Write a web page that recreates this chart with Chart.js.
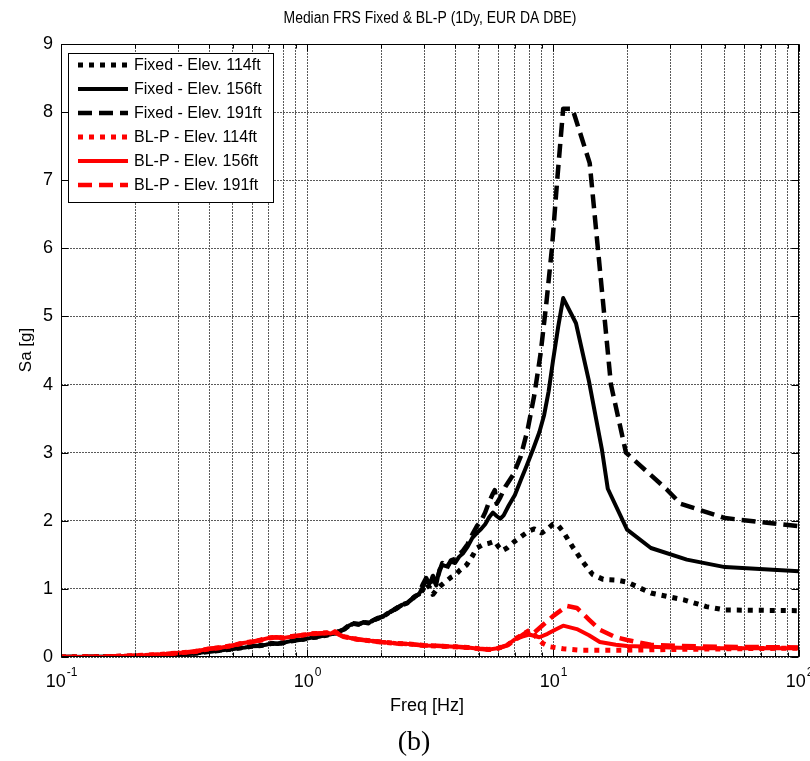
<!DOCTYPE html>
<html>
<head>
<meta charset="utf-8">
<script src="https://cdn.jsdelivr.net/npm/chart.js@4"></script>
<style>
  html, body { margin: 0; padding: 0; background: #fff; }
  canvas { display: block; }
</style>
</head>
<body>
<canvas id="frsChart" width="810" height="761"></canvas>
<script>
// values: frequency [Hz] / spectral accel. Sa [g]

// fixed base, shared low-frequency part (three curves overlap here)
const fixedLowFreq = [0.1, 0.13, 0.16, 0.2, 0.24, 0.28, 0.32, 0.36, 0.4, 0.44,
  0.48, 0.52, 0.56, 0.6, 0.64, 0.68, 0.72, 0.76, 0.8, 0.85,
  0.9, 0.95, 1.0, 1.05, 1.1, 1.15, 1.2, 1.25, 1.3, 1.36,
  1.42, 1.48, 1.55, 1.62, 1.7, 1.78, 1.86, 1.95, 2.05, 2.15,
  2.25, 2.35, 2.45, 2.55, 2.65, 2.75, 2.85];
const fixedLowSa = [0.00, 0.004, 0.008, 0.013, 0.02, 0.03, 0.045, 0.06, 0.08, 0.095,
  0.11, 0.13, 0.14, 0.16, 0.165, 0.18, 0.20, 0.195, 0.21, 0.23,
  0.245, 0.255, 0.27, 0.285, 0.295, 0.31, 0.32, 0.335, 0.35, 0.38,
  0.41, 0.46, 0.49, 0.48, 0.51, 0.50, 0.54, 0.57, 0.60, 0.65,
  0.69, 0.73, 0.77, 0.79, 0.84, 0.89, 0.92];

const fixed114Freq = [2.95, 3.05, 3.15, 3.25, 3.35, 3.5, 3.7, 3.85, 4.0, 4.2,
  4.45, 4.7, 4.9, 5.2, 5.5, 5.8, 6.0, 6.2, 6.5, 7.0,
  7.5, 8.0, 8.4, 9.0, 9.5, 10.0, 10.5, 11.0, 12.0, 13.2,
  14.5, 16.0, 18.2, 20, 25, 30, 34, 42, 50, 100];
const fixed114Sa = [0.98, 1.08, 1.02, 0.92, 0.98, 1.05, 1.12, 1.17, 1.20, 1.28,
  1.35, 1.48, 1.60, 1.65, 1.67, 1.70, 1.62, 1.56, 1.60, 1.70,
  1.78, 1.85, 1.88, 1.82, 1.88, 1.95, 1.93, 1.84, 1.62, 1.40,
  1.21, 1.14, 1.13, 1.10, 0.94, 0.88, 0.84, 0.74, 0.69, 0.68];

const fixed156Freq = [2.95, 3.05, 3.15, 3.25, 3.35, 3.45, 3.55, 3.7, 3.85, 4.0,
  4.15, 4.3, 4.5, 4.7, 4.9, 5.1, 5.3, 5.5, 5.7, 5.9,
  6.1, 6.3, 6.6, 7.0, 7.4, 7.8, 8.3, 8.8, 9.2, 9.6,
  10.0, 10.5, 11.0, 12.4, 14.0, 15.8, 16.7, 20, 25, 35,
  50, 100];
const fixed156Sa = [1.02, 1.12, 1.08, 1.15, 1.05, 1.28, 1.35, 1.33, 1.40, 1.38,
  1.47, 1.52, 1.62, 1.75, 1.82, 1.88, 1.95, 2.05, 2.12, 2.07,
  2.03, 2.08, 2.22, 2.38, 2.60, 2.80, 3.05, 3.30, 3.55, 3.90,
  4.35, 4.85, 5.27, 4.90, 4.05, 3.05, 2.47, 1.87, 1.60, 1.43,
  1.32, 1.26];

const fixed191Freq = [2.95, 3.05, 3.15, 3.25, 3.35, 3.45, 3.55, 3.7, 3.85, 4.0,
  4.15, 4.3, 4.5, 4.7, 4.9, 5.1, 5.3, 5.5, 5.7, 5.8,
  5.9, 6.1, 6.4, 6.9, 7.4, 7.9, 8.4, 8.9, 9.4, 9.9,
  10.4, 11.0, 12.0, 14.1, 17.2, 19.8, 29, 33, 50, 100];
const fixed191Sa = [1.06, 1.16, 1.05, 1.19, 1.10, 1.25, 1.38, 1.30, 1.42, 1.44,
  1.50, 1.56, 1.66, 1.80, 1.92, 2.00, 2.12, 2.28, 2.40, 2.45,
  2.25, 2.34, 2.50, 2.68, 2.95, 3.35, 3.85, 4.45, 5.20, 6.00,
  7.00, 8.05, 8.05, 7.25, 4.00, 3.00, 2.46, 2.25, 2.04, 1.92];

// BL-P, shared low-frequency part
const blpLowFreq = [0.1, 0.15, 0.2, 0.25, 0.3, 0.35, 0.4, 0.45, 0.5, 0.55,
  0.6, 0.65, 0.7, 0.75, 0.8, 0.85, 0.9, 0.95, 1.0, 1.05,
  1.1, 1.15, 1.2, 1.25, 1.3, 1.35, 1.4, 1.5, 1.6, 1.8,
  2.0, 2.3, 2.6, 3.0, 3.5, 4.0, 4.5, 5.0, 5.5, 6.0,
  6.5];
const blpLowSa = [0.0, 0.005, 0.02, 0.035, 0.06, 0.08, 0.12, 0.14, 0.17, 0.205,
  0.225, 0.25, 0.28, 0.29, 0.28, 0.295, 0.31, 0.32, 0.33, 0.34,
  0.345, 0.35, 0.355, 0.345, 0.37, 0.33, 0.30, 0.28, 0.26, 0.24,
  0.22, 0.20, 0.19, 0.17, 0.16, 0.15, 0.14, 0.12, 0.11, 0.13,
  0.17];

const blp114Freq = [7.0, 7.5, 8.1, 8.6, 9.1, 9.7, 11, 13, 20, 30, 50, 100];
const blp114Sa = [0.25, 0.33, 0.40, 0.28, 0.20, 0.15, 0.12, 0.10, 0.10, 0.11, 0.12, 0.13];

const blp156Freq = [7.0, 7.5, 8.0, 8.8, 9.5, 10.2, 11.0, 12.5, 14, 15.5, 18, 20, 25, 30, 40, 50, 70, 100];
const blp156Sa = [0.26, 0.30, 0.33, 0.29, 0.34, 0.40, 0.46, 0.41, 0.32, 0.22, 0.18, 0.16, 0.15, 0.14, 0.13, 0.13, 0.13, 0.13];

const blp191Freq = [7.0, 7.5, 7.85, 8.4, 9.1, 10.0, 11.4, 12.5, 14, 15.5, 18, 20, 25, 33, 50, 100];
const blp191Sa = [0.27, 0.32, 0.37, 0.36, 0.47, 0.60, 0.75, 0.72, 0.55, 0.40, 0.29, 0.25, 0.18, 0.16, 0.15, 0.14];

const seriesLabels = ['Fixed - Elev. 114ft', 'Fixed - Elev. 156ft', 'Fixed - Elev. 191ft',
  'BL-P - Elev. 114ft', 'BL-P - Elev. 156ft', 'BL-P - Elev. 191ft'];

const xDecades = [0.1, 1, 10, 100];
const xDecadeExp = ['-1', '0', '1', '2'];

const FONT = '"Liberation Sans", Arial, Helvetica, sans-serif';
const GRID = '#5a5a5a';

function pts(f, v) {
  return f.map((x, i) => ({ x: x, y: v[i] }));
}

// 1..9 per decade for the log grid
const xGridTicks = [];
xDecades.slice(0, 3).forEach(d => {
  for (let k = 1; k <= 9; k++) xGridTicks.push(+(d * k).toPrecision(3));
});
xGridTicks.push(100);

const DOT = [5, 6], DASH = [14, 7];

function line(label, data, color, dash, width, order) {
  return {
    label, data, borderColor: color, backgroundColor: color,
    borderDash: dash, borderWidth: width, order,
    pointRadius: 0, tension: 0, fill: false,
    borderCapStyle: 'butt', borderJoinStyle: 'round'
  };
}

const datasets = [
  line(seriesLabels[0], pts(fixedLowFreq.concat(fixed114Freq), fixedLowSa.concat(fixed114Sa)), '#000', DOT, 5, 1),
  line(seriesLabels[1], pts(fixedLowFreq.concat(fixed156Freq), fixedLowSa.concat(fixed156Sa)), '#000', [], 4, 1),
  line(seriesLabels[2], pts(fixedLowFreq.concat(fixed191Freq), fixedLowSa.concat(fixed191Sa)), '#000', DASH, 4.5, 1),
  line(seriesLabels[3], pts(blpLowFreq.concat(blp114Freq), blpLowSa.concat(blp114Sa)), '#ff0000', DOT, 5, 0),
  line(seriesLabels[4], pts(blpLowFreq.concat(blp156Freq), blpLowSa.concat(blp156Sa)), '#ff0000', [], 4, 0),
  line(seriesLabels[5], pts(blpLowFreq.concat(blp191Freq), blpLowSa.concat(blp191Sa)), '#ff0000', DASH, 4.5, 0)
];

// box, inner ticks, power-of-ten labels, titles and the legend box
const frsDecor = {
  id: 'frsDecor',
  afterDraw(chart) {
    const { ctx, chartArea: a, scales: { x, y } } = chart;
    ctx.save();
    ctx.strokeStyle = '#000';
    ctx.lineWidth = 1;
    ctx.setLineDash([]);
    const L = Math.round(a.left) + 0.5, R = Math.round(a.right) - 0.5;
    const T = Math.round(a.top) + 0.5, B = Math.round(a.bottom) - 0.5;
    ctx.strokeRect(L, T, R - L, B - T);

    ctx.beginPath();
    x.ticks.forEach(t => {
      const px = Math.round(x.getPixelForValue(t.value)) + 0.5;
      const len = xDecades.includes(t.value) ? 7 : 4;
      ctx.moveTo(px, B); ctx.lineTo(px, B - len);
      ctx.moveTo(px, T); ctx.lineTo(px, T + len);
    });
    y.ticks.forEach(t => {
      const py = Math.round(y.getPixelForValue(t.value)) + 0.5;
      ctx.moveTo(L, py); ctx.lineTo(L + 7, py);
      ctx.moveTo(R, py); ctx.lineTo(R - 7, py);
    });
    ctx.stroke();

    ctx.fillStyle = '#000';
    ctx.textBaseline = 'alphabetic';
    ctx.textAlign = 'left';
    xDecades.forEach((v, i) => {
      const px = x.getPixelForValue(v);
      ctx.font = '18px ' + FONT;
      const w1 = ctx.measureText('10').width;
      ctx.font = '12px ' + FONT;
      const w2 = ctx.measureText(xDecadeExp[i]).width;
      const x0 = px - (w1 + w2) / 2;
      ctx.font = '18px ' + FONT;
      ctx.fillText('10', x0, 687);
      ctx.font = '12px ' + FONT;
      ctx.fillText(xDecadeExp[i], x0 + w1 + 1, 676);
    });

    ctx.textAlign = 'center';
    // title: slightly condensed like the original renderer
    ctx.save();
    ctx.translate((a.left + a.right) / 2, 23);
    ctx.scale(0.87, 1);
    ctx.font = '16px ' + FONT;
    ctx.fillText('Median FRS Fixed & BL-P (1Dy, EUR DA DBE)', 0, 0);
    ctx.restore();

    ctx.font = '18px ' + FONT;
    ctx.fillText('Freq [Hz]', 427, 711);
    ctx.font = '28px "Liberation Serif", "Times New Roman", serif';
    ctx.fillText('(b)', 414, 750);

    ctx.save();
    ctx.translate(26, 350);
    ctx.rotate(-Math.PI / 2);
    ctx.font = '17px ' + FONT;
    ctx.textBaseline = 'middle';
    ctx.fillText('Sa [g]', 0, 0);
    ctx.restore();

    // legend
    ctx.fillStyle = '#fff';
    ctx.fillRect(68.5, 53.5, 205, 149);
    ctx.strokeStyle = '#000';
    ctx.lineWidth = 1;
    ctx.strokeRect(68.5, 53.5, 205, 149);
    ctx.textAlign = 'left';
    ctx.textBaseline = 'middle';
    ctx.font = '16px ' + FONT;
    chart.data.datasets.forEach((ds, i) => {
      const ly = 65 + i * 24;
      ctx.strokeStyle = ds.borderColor;
      ctx.lineWidth = ds.borderWidth;
      ctx.lineCap = 'butt';
      ctx.setLineDash(ds.borderDash);
      ctx.beginPath();
      ctx.moveTo(78, ly);
      ctx.lineTo(128, ly);
      ctx.stroke();
      ctx.setLineDash([]);
      ctx.fillStyle = '#000';
      ctx.fillText(ds.label, 134, ly + 1);
    });
    ctx.restore();
  }
};

new Chart(document.getElementById('frsChart').getContext('2d'), {
  type: 'line',
  data: { datasets },
  options: {
    responsive: false,
    animation: false,
    devicePixelRatio: 1,
    layout: { padding: { top: 44, right: 11, bottom: 0, left: 0 } },
    plugins: {
      legend: { display: false },
      title: { display: false },
      tooltip: { enabled: false }
    },
    scales: {
      x: {
        type: 'logarithmic',
        min: 0.1,
        max: 100,
        afterBuildTicks: s => { s.ticks = xGridTicks.map(v => ({ value: v })); },
        afterFit: s => { s.height = 104; },
        ticks: { display: false },
        grid: { color: GRID, lineWidth: 1, drawTicks: false },
        border: { display: false, dash: [2, 1] }
      },
      y: {
        min: 0,
        max: 9,
        afterFit: s => { s.width = 61; },
        ticks: { stepSize: 1, padding: 8, color: '#000', font: { family: FONT, size: 18 } },
        grid: { color: GRID, lineWidth: 1, drawTicks: false },
        border: { display: false, dash: [2, 1] }
      }
    }
  },
  plugins: [frsDecor]
});
</script>
</body>
</html>
